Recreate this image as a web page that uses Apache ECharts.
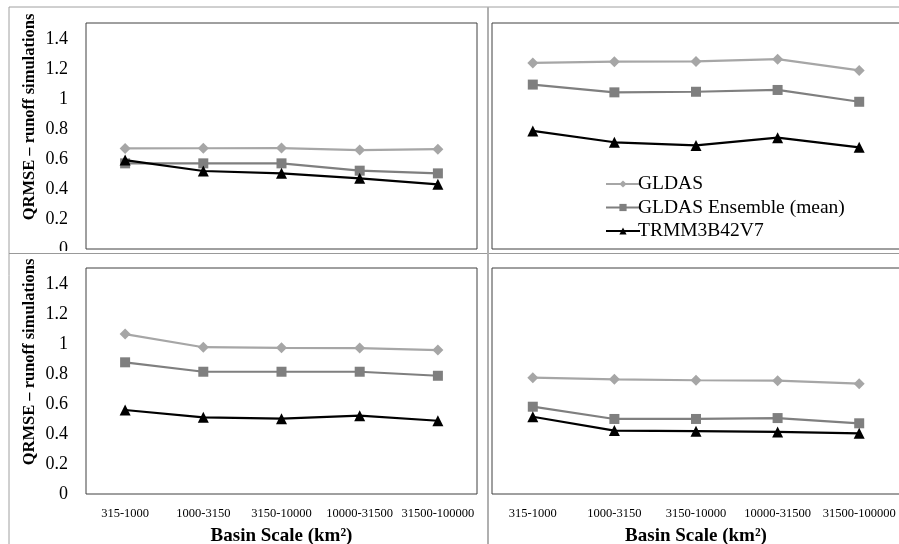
<!DOCTYPE html>
<html>
<head>
<meta charset="utf-8">
<script src="https://cdn.jsdelivr.net/npm/echarts@6/dist/echarts.min.js"></script>
<style>
	html, body { margin: 0; padding: 0; background: #fff; }
	#chart { width: 899px; height: 544px; }
</style>
</head>
<body>
<div id="chart"></div>
<script>
var categories = ['315-1000', '1000-3150', '3150-10000', '10000-31500', '31500-100000'];
var seriesNames = ['GLDAS', 'GLDAS Ensemble (mean)', 'TRMM3B42V7'];
var yTicks = [0, 0.2, 0.4, 0.6, 0.8, 1, 1.2, 1.4];

// panel 1 (top left)
var p1Gldas = [0.673, 0.674, 0.675, 0.662, 0.668];
var p1Ens = [0.573, 0.573, 0.573, 0.524, 0.506];
var p1Trmm = [0.595, 0.522, 0.506, 0.473, 0.433];
// panel 2 (top right)
var p2Gldas = [1.245, 1.253, 1.255, 1.27, 1.195];
var p2Ens = [1.1, 1.048, 1.052, 1.064, 0.985];
var p2Trmm = [0.79, 0.714, 0.693, 0.745, 0.68];
// panel 3 (bottom left)
var p3Gldas = [1.07, 0.982, 0.978, 0.976, 0.963];
var p3Ens = [0.881, 0.818, 0.818, 0.818, 0.791];
var p3Trmm = [0.562, 0.513, 0.504, 0.524, 0.49];
// panel 4 (bottom right)
var p4Gldas = [0.778, 0.767, 0.761, 0.758, 0.738];
var p4Ens = [0.584, 0.502, 0.502, 0.508, 0.473];
var p4Trmm = [0.517, 0.424, 0.42, 0.415, 0.406];

var panels = [
	[p1Gldas, p1Ens, p1Trmm],
	[p2Gldas, p2Ens, p2Trmm],
	[p3Gldas, p3Ens, p3Trmm],
	[p4Gldas, p4Ens, p4Trmm]
];

var font = 'Liberation Serif, Times New Roman, serif';
var colors = ['#a6a6a6', '#7f7f7f', '#000000'];
var symbols = ['diamond', 'rect', 'triangle'];
var symbolSizes = [11, 10, 11];

var grids = [
	{left: 86, top: 23, width: 391, height: 226},
	{left: 492, top: 23, width: 408, height: 226},
	{left: 86, top: 268, width: 391, height: 226},
	{left: 492, top: 268, width: 408, height: 226}
];

var xAxes = [], yAxes = [], series = [];
grids.forEach(function(g, i) {
	g.show = true;
	g.borderColor = '#404040';
	g.borderWidth = 1;
	g.backgroundColor = '#fff';
	g.containLabel = false;
	g.outerBoundsMode = 'none';
	var bottomRow = i >= 2;
	var leftCol = i % 2 === 0;
	xAxes.push({
		type: 'category',
		gridIndex: i,
		data: categories,
		boundaryGap: true,
		axisLine: {show: false},
		axisTick: {show: false},
		splitLine: {show: false},
		axisLabel: {
			show: bottomRow,
			interval: 0,
			margin: 13,
			color: '#000',
			fontFamily: font,
			fontSize: 12.5
		},
		name: bottomRow ? 'Basin Scale (km\u00b2)' : '',
		nameLocation: 'middle',
		nameGap: 33,
		nameTextStyle: {
			color: '#000',
			fontFamily: font,
			fontSize: 19,
			fontWeight: 'bold'
		}
	});
	yAxes.push({
		type: 'value',
		gridIndex: i,
		min: 0,
		max: 1.512,
		interval: 0.2,
		axisLine: {show: false},
		axisTick: {show: false},
		splitLine: {show: false},
		axisLabel: {
			show: leftCol,
			showMaxLabel: false,
			margin: 18,
			color: '#000',
			fontFamily: font,
			fontSize: 18,
			formatter: function(v) {
				return yTicks.indexOf(Math.round(v * 10) / 10) >= 0 ? String(Math.round(v * 10) / 10) : '';
			}
		},
		name: leftCol ? 'QRMSE \u2013 runoff simulations' : '',
		nameLocation: 'middle',
		nameGap: 48,
		nameRotate: 90,
		nameTextStyle: {
			color: '#000',
			fontFamily: font,
			fontSize: 16.5,
			fontWeight: 'bold',
			padding: [0, 0, 0, 38]
		}
	});
	panels[i].forEach(function(vals, k) {
		series.push({
			name: seriesNames[k],
			type: 'line',
			xAxisIndex: i,
			yAxisIndex: i,
			data: vals,
			symbol: symbols[k],
			symbolSize: symbolSizes[k],
			color: colors[k],
			lineStyle: {color: colors[k], width: 2.2},
			itemStyle: {color: colors[k]},
			z: 3 + k,
			animation: false
		});
	});
});

var chart = echarts.init(document.getElementById('chart'));
chart.setOption({
	animation: false,
	grid: grids,
	xAxis: xAxes,
	yAxis: yAxes,
	series: series,
	legend: {
		data: seriesNames,
		orient: 'vertical',
		left: 600,
		top: 169,
		itemGap: 3.5,
		itemWidth: 34,
		itemHeight: 9,
		textStyle: {color: '#000', fontFamily: font, fontSize: 19.5, padding: [0, 0, 0, -7]}
	},
	graphic: [
		// cover the clipped 0 label of the top-left panel
		{type: 'rect', shape: {x: 0, y: 251, width: 85, height: 6}, style: {fill: '#fff'}, z: 100},
		{type: 'line', shape: {x1: 9, y1: 7, x2: 899, y2: 7}, style: {stroke: '#a0a0a0', lineWidth: 1}, z: 101},
		{type: 'line', shape: {x1: 9, y1: 7, x2: 9, y2: 544}, style: {stroke: '#a0a0a0', lineWidth: 1}, z: 101},
		{type: 'line', shape: {x1: 9, y1: 253.5, x2: 899, y2: 253.5}, style: {stroke: '#999', lineWidth: 1}, z: 101},
		{type: 'line', shape: {x1: 488, y1: 7, x2: 488, y2: 544}, style: {stroke: '#b0b0b0', lineWidth: 2}, z: 101}
	]
});
</script>
</body>
</html>
